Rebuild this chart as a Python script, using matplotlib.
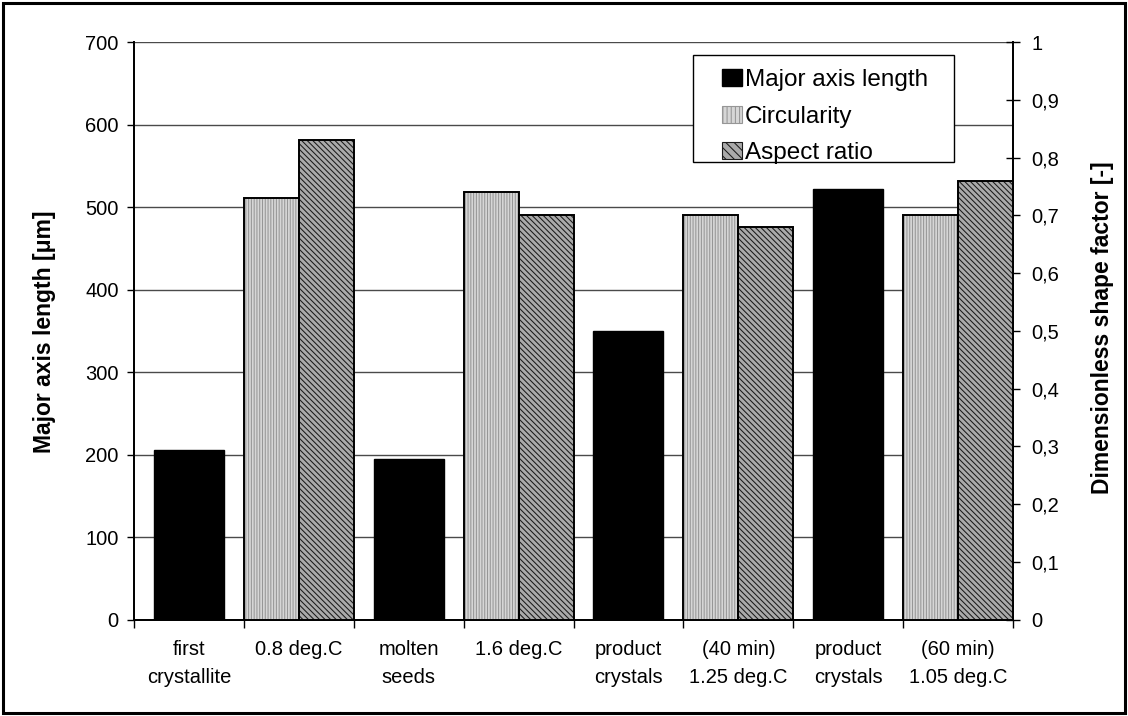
import numpy as np
import matplotlib
matplotlib.use("Agg")
import matplotlib.pyplot as plt
from matplotlib.patches import Patch, Rectangle
from matplotlib.ticker import FixedLocator, FuncFormatter

plt.rcParams['font.family'] = ['Liberation Sans', 'DejaVu Sans']
plt.rcParams['hatch.linewidth'] = 0.75

# ---- data -------------------------------------------------------------
categories = ["first\ncrystallite", "0.8 deg.C", "molten\nseeds", "1.6 deg.C",
              "product\ncrystals", "(40 min)\n1.25 deg.C", "product\ncrystals",
              "(60 min)\n1.05 deg.C"]
major_axis_um = [206, np.nan, 195, np.nan, 350, np.nan, 522, np.nan]
circularity = [np.nan, 0.73, np.nan, 0.74, np.nan, 0.70, np.nan, 0.70]
aspect_ratio = [np.nan, 0.83, np.nan, 0.70, np.nan, 0.68, np.nan, 0.76]

left_ticks = [0, 100, 200, 300, 400, 500, 600, 700]
right_ticks = [0, 0.1, 0.2, 0.3, 0.4, 0.5, 0.6, 0.7, 0.8, 0.9, 1.0]

# ---- styles -----------------------------------------------------------
circ_face, circ_hatch, circ_pat = '#d6d6d6', '#969696', '||||||'
asp_face, asp_hatch, asp_pat = '#aaaaaa', '#1a1a1a', '\\' * 6
TICK_FS = 14.5

W, H = 1128, 716
fig = plt.figure(figsize=(W / 100, H / 100), dpi=100)
ax = fig.add_axes([134 / W, 1 - 619.5 / H, (1013 - 134) / W, (619.5 - 42.3) / H])
ax2 = ax.twinx()

x = np.arange(len(categories))

# primary axis: major axis length
ax.bar(x, major_axis_um, width=0.636, color='black', edgecolor='black', lw=1, zorder=3)

# secondary axis: shape factors (hatch layer + outline layer)
def hatched_bars(axis, xpos, vals, face, hcol, pat):
    axis.bar(xpos, vals, width=0.5, color=face, edgecolor=hcol, hatch=pat, lw=0, zorder=3)
    axis.bar(xpos, vals, width=0.5, fill=False, edgecolor='black', lw=1.4, zorder=4)

hatched_bars(ax2, x - 0.25, circularity, circ_face, circ_hatch, circ_pat)
hatched_bars(ax2, x + 0.25, aspect_ratio, asp_face, asp_hatch, asp_pat)

ax.set_xlim(-0.5, len(categories) - 0.5)
ax.set_ylim(0, 700)
ax2.set_ylim(0, 1)

# gridlines on the primary scale, behind bars
ax.set_axisbelow(True)
for v in left_ticks[1:]:
    ax.axhline(v, color='#4a4a4a', lw=1, zorder=0)

ax.set_yticks(left_ticks)
ax.tick_params(axis='y', direction='out', length=5, width=1, labelsize=TICK_FS, pad=6)
ax.set_xticks(x)
ax.set_xticklabels(categories, fontsize=TICK_FS, linespacing=1.55)
ax.tick_params(axis='x', which='major', length=0, pad=15)
ax.xaxis.set_minor_locator(FixedLocator(np.arange(-0.5, len(categories), 1.0)))
ax.tick_params(axis='x', which='minor', direction='out', length=6, width=1)

ax2.yaxis.set_major_locator(FixedLocator(right_ticks))
ax2.yaxis.set_major_formatter(FuncFormatter(
    lambda v, p: '0' if abs(v) < 1e-9 else ('1' if abs(v - 1) < 1e-9 else f"{v:.1f}".replace('.', ','))))
ax2.tick_params(axis='y', direction='inout', length=10, width=1, labelsize=TICK_FS, pad=8)

for a in (ax, ax2):
    a.spines['top'].set_visible(False)
    for s in ('left', 'right', 'bottom'):
        a.spines[s].set_linewidth(1.3)
        a.spines[s].set_color('black')

# axis titles
fig.text(45 / W, 1 - 332 / H, 'Major axis length [\u03bcm]', rotation=90,
         ha='center', va='center', fontsize=16.5, fontweight='bold')
fig.text(1102 / W, 1 - 328 / H, 'Dimensionless shape factor [-]', rotation=90,
         ha='center', va='center', fontsize=16.5, fontweight='bold')

# legend: framed box with the entries placed inside it
fig.patches.append(Rectangle((693 / W, 1 - 162 / H), (954 - 693) / W, (162 - 55) / H,
                             transform=fig.transFigure, facecolor='white',
                             edgecolor='black', lw=1, zorder=9))
handles = [Patch(facecolor='black', edgecolor='black'),
           Patch(facecolor=circ_face, edgecolor=circ_hatch, hatch='||||', lw=0.8),
           Patch(facecolor=asp_face, edgecolor=asp_hatch, hatch='\\\\\\\\', lw=0.8)]
labels = ['Major axis length', 'Circularity', 'Aspect ratio']
leg = fig.legend(handles, labels, loc='upper left',
                 bbox_to_anchor=(722 / W, 1 - 69 / H),
                 fontsize=17.5, frameon=False,
                 handlelength=0.82, handleheight=0.7,
                 handletextpad=0.12, borderpad=0, labelspacing=0.6,
                 borderaxespad=0)
leg.set_zorder(10)

# outer frame of the figure
fig.patches.append(Rectangle((0.003, 0.004), 0.994, 0.992, transform=fig.transFigure,
                             fill=False, edgecolor='black', lw=2.2))

fig.savefig('out.png', dpi=100)
